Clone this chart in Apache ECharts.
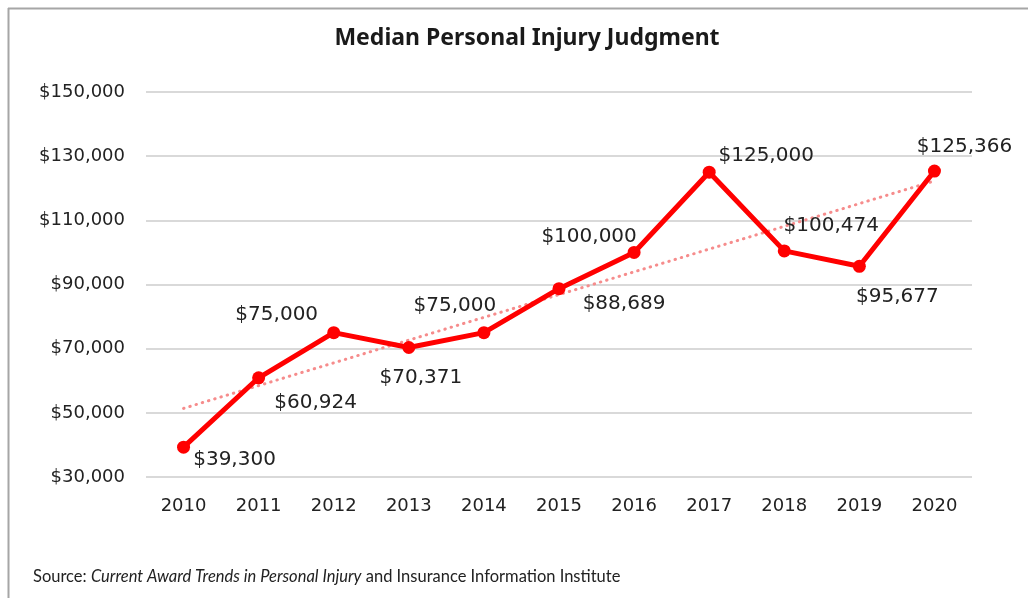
<!DOCTYPE html>
<html>
<head>
<meta charset="utf-8">
<script src="https://cdn.jsdelivr.net/npm/echarts@6/dist/echarts.min.js"></script>
<style>
  html, body { margin: 0; padding: 0; background: #fff; }
  #chart { width: 1028px; height: 598px; }
</style>
</head>
<body>
<div id="chart"></div>
<script>
  const years = ['2010', '2011', '2012', '2013', '2014', '2015', '2016', '2017', '2018', '2019', '2020']
  const judgments = [39300, 60924, 75000, 70371, 75000, 88689, 100000, 125000, 100474, 95677, 125366]
  // dotted trend line, end points
  const trendEnds = [51400, 122300]
  const yTicks = { min: 30000, max: 150000, step: 20000 }

  // where each value label sits relative to its point (px)
  const labelOffsets = [
    [51, 13], [57, 25], [-57, -18], [12, 30], [-29, -27], [65, 15],
    [-45, -16], [57, -16], [47, -25], [38, 31], [30, -24]
  ]

  const money = v => '$' + v.toLocaleString('en-US')

  const trendData = years.map((y, i) =>
    i === 0 ? trendEnds[0] : i === years.length - 1 ? trendEnds[1] : null)

  const chart = echarts.init(document.getElementById('chart'), null, { renderer: 'canvas' })

  const option = {
    animation: false,
    backgroundColor: '#fff',
    title: {
      text: 'Median Personal Injury Judgment',
      left: 522,
      top: 22,
      textAlign: 'center',
      textStyle: { fontFamily: 'Noto Sans', fontWeight: 'bold', fontSize: 23, color: '#1a1a1a' }
    },
    grid: { left: 146, right: 56, top: 92, bottom: 121 },
    xAxis: {
      type: 'category',
      data: years,
      boundaryGap: true,
      axisLine: { show: false },
      axisTick: { show: false },
      axisLabel: { margin: 20, fontFamily: 'DejaVu Sans', fontSize: 18, color: '#222' }
    },
    yAxis: {
      type: 'value',
      min: yTicks.min,
      max: yTicks.max,
      interval: yTicks.step,
      axisLine: { show: false },
      axisTick: { show: false },
      splitLine: { lineStyle: { color: '#d9d9d9', width: 2 } },
      axisLabel: { margin: 21, fontFamily: 'DejaVu Sans', fontSize: 18, color: '#222', formatter: money }
    },
    series: [
      {
        type: 'line',
        data: trendData,
        connectNulls: true,
        symbol: 'none',
        silent: true,
        lineStyle: { color: '#f68c8c', width: 3, type: [0.5, 6], cap: 'round' },
        z: 1
      },
      {
        type: 'line',
        data: judgments.map((v, i) => ({
          value: v,
          label: { offset: labelOffsets[i] }
        })),
        symbol: 'circle',
        symbolSize: 13,
        itemStyle: { color: '#ff0000' },
        lineStyle: { color: '#ff0000', width: 5 },
        z: 2,
        label: {
          show: true,
          position: 'inside',
          formatter: p => money(p.value),
          fontFamily: 'DejaVu Sans',
          fontSize: 20,
          color: '#222'
        }
      }
    ],
    graphic: [
      { type: 'line', shape: { x1: 8, y1: 8.5, x2: 1028, y2: 8.5 }, style: { stroke: '#a6a6a6', lineWidth: 2 } },
      { type: 'line', shape: { x1: 8.5, y1: 8, x2: 8.5, y2: 598 }, style: { stroke: '#a6a6a6', lineWidth: 2 } },
      {
        type: 'text',
        left: 33,
        top: 568,
        style: {
          text: '{n|Source: }{i|Current Award Trends in Personal Injury}{n| and Insurance Information Institute}',
          rich: {
            n: { fontFamily: 'Lato', fontSize: 16.5, fill: '#222' },
            i: { fontFamily: 'Lato', fontSize: 16.5, fontStyle: 'italic', fill: '#222' }
          }
        }
      }
    ]
  }

  chart.setOption(option)
</script>
</body>
</html>
